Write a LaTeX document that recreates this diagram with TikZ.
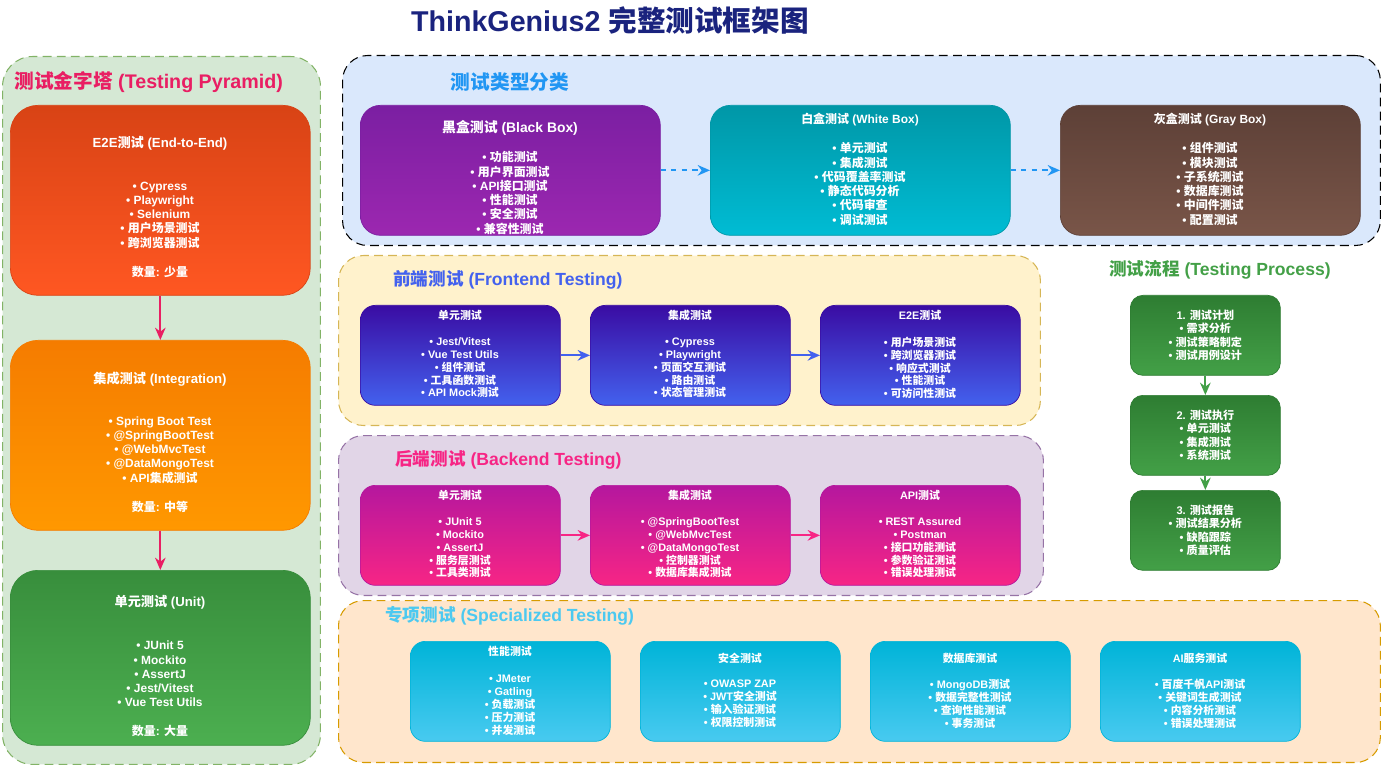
\documentclass[tikz,border=0pt]{standalone}
\usepackage{fontspec}
\setmainfont{Liberation Sans}
\newfontfamily\cjkfont{Noto Sans CJK SC}
\usetikzlibrary{arrows.meta}

%% CJK characters switch to the CJK family
\newXeTeXintercharclass\cjkclass
\count255="4E00
\loop\XeTeXcharclass\count255=\cjkclass\advance\count255 by 1\ifnum\count255<"A000\repeat
\XeTeXinterchartoks 0 \cjkclass={\begingroup\cjkfont}
\XeTeXinterchartoks 4095 \cjkclass={\begingroup\cjkfont}
\XeTeXinterchartoks \cjkclass 0={\endgroup}
\XeTeXinterchartoks \cjkclass 4095={\endgroup}
\XeTeXinterchartokenstate=1

\definecolor{titleblue}{HTML}{1A237E}
\definecolor{pyrpink}{HTML}{E91E63}
\definecolor{typeblue}{HTML}{2196F3}
\definecolor{frontblue}{HTML}{4361EE}
\definecolor{backpink}{HTML}{F72585}
\definecolor{specblue}{HTML}{4CC9F0}
\definecolor{procgreen}{HTML}{43A047}
%% panels
\definecolor{pyrfill}{HTML}{D5E8D4}  \definecolor{pyrline}{HTML}{82B366}
\definecolor{typefill}{HTML}{DAE8FC}
\definecolor{frontfill}{HTML}{FFF2CC}\definecolor{frontline}{HTML}{D6B656}
\definecolor{backfill}{HTML}{E1D5E7} \definecolor{backline}{HTML}{9673A6}
\definecolor{specfill}{HTML}{FFE6CC} \definecolor{specline}{HTML}{D79B00}
%% cards
\definecolor{e2eA}{HTML}{D84315}  \definecolor{e2eB}{HTML}{FF5722}
\definecolor{intA}{HTML}{F57C00}  \definecolor{intB}{HTML}{FF9800}
\definecolor{uniA}{HTML}{388E3C}  \definecolor{uniB}{HTML}{4CAF50}
\definecolor{blkA}{HTML}{7B1FA2}  \definecolor{blkB}{HTML}{9C27B0}
\definecolor{whtA}{HTML}{0097A7}  \definecolor{whtB}{HTML}{00BCD4}
\definecolor{gryA}{HTML}{5D4037}  \definecolor{gryB}{HTML}{795548}
\definecolor{frA}{HTML}{3A0CA3}   \definecolor{frB}{HTML}{4361EE}
\definecolor{bkA}{HTML}{B5179E}   \definecolor{bkB}{HTML}{F72585}
\definecolor{spA}{HTML}{00B4D8}   \definecolor{spB}{HTML}{48CAF0}
\definecolor{prA}{HTML}{2E7D32}   \definecolor{prB}{HTML}{43A047}

\tikzset{
  panel/.style={draw=#1, line width=0.6pt, dash pattern=on 5pt off 3pt,
    rounded corners=0.5cm, anchor=north west, inner sep=0pt},
  card/.style 2 args={top color=#1, bottom color=#2, draw=#1, line width=0.4pt,
    anchor=north west, inner sep=0pt},
  ptitle/.style={font=\bfseries\fontsize{11.2}{13}\selectfont, inner sep=0pt},
  stitle/.style={font=\bfseries\fontsize{10}{12}\selectfont, inner sep=0pt},
  wtxt/.style={text=white, align=center, inner sep=0pt},
  pyrarrow/.style={draw=pyrpink, line width=1.1pt, -{Stealth[length=7pt,width=6pt]}},
  flow/.style={draw=#1, line width=1.2pt, -{Stealth[length=7pt,width=6pt]}},
}

\begin{document}
\begin{tikzpicture}[x=0.02cm, y=-0.02cm]
  \useasboundingbox (0,0) rectangle (1381,766);

  \node[font=\bfseries\fontsize{16.3}{19}\selectfont, text=titleblue] (maintitle) at (610,20) {ThinkGenius2 完整测试框架图};

  %% --- panels ---
  \node[panel=pyrline, fill=pyrfill, rounded corners=0.6cm,
    minimum width=6.36cm, minimum height=14.16cm] (pyrpanel) at (2,56) {};
  \node[panel=black, fill=typefill,
    minimum width=20.76cm, minimum height=3.8cm] (typepanel) at (342,55) {};
  \node[panel=frontline, fill=frontfill,
    minimum width=14.04cm, minimum height=3.4cm] (frontpanel) at (338,255) {};
  \node[panel=backline, fill=backfill,
    minimum width=14.1cm, minimum height=3.2cm] (backpanel) at (338,435) {};
  \node[panel=specline, fill=specfill,
    minimum width=20.84cm, minimum height=3.24cm] (specpanel) at (338,600) {};

  %% --- 测试金字塔 ---
  \node[ptitle, text=pyrpink, anchor=west] (pyrtitle) at (14,82) {测试金字塔 (Testing Pyramid)};
  \node[card={e2eA}{e2eB}, rounded corners=0.55cm,
    minimum width=6cm, minimum height=3.8cm] (e2e) at (10,105) {};
  \node[card={intA}{intB}, rounded corners=0.55cm,
    minimum width=6cm, minimum height=3.8cm] (integ) at (10,340) {};
  \node[card={uniA}{uniB}, rounded corners=0.55cm,
    minimum width=6cm, minimum height=3.5cm] (unitp) at (10,570) {};

  \node[wtxt, font=\bfseries\fontsize{7.5}{9}\selectfont] (e2e-t) at (160,143) {E2E测试 (End-to-End)};
  \node[wtxt, font=\bfseries\fontsize{6.8}{8.1}\selectfont] (e2e-l) at (160,215)
    {• Cypress\\• Playwright\\• Selenium\\• 用户场景测试\\• 跨浏览器测试};
  \node[wtxt, font=\bfseries\fontsize{6.8}{8.1}\selectfont] (e2e-n) at (160,272) {数量: 少量};

  \node[wtxt, font=\bfseries\fontsize{7.5}{9}\selectfont] (integ-t) at (160,379) {集成测试 (Integration)};
  \node[wtxt, font=\bfseries\fontsize{6.8}{8.1}\selectfont] (integ-l) at (160,450)
    {• Spring Boot Test\\• @SpringBootTest\\• @WebMvcTest\\• @DataMongoTest\\• API集成测试};
  \node[wtxt, font=\bfseries\fontsize{6.8}{8.1}\selectfont] (integ-n) at (160,507) {数量: 中等};

  \node[wtxt, font=\bfseries\fontsize{7.5}{9}\selectfont] (unitp-t) at (160,602) {单元测试 (Unit)};
  \node[wtxt, font=\bfseries\fontsize{6.8}{8.1}\selectfont] (unitp-l) at (160,674)
    {• JUnit 5\\• Mockito\\• AssertJ\\• Jest/Vitest\\• Vue Test Utils};
  \node[wtxt, font=\bfseries\fontsize{6.8}{8.1}\selectfont] (unitp-n) at (160,731) {数量: 大量};

  \draw[pyrarrow] (e2e.south) -- (integ.north);
  \draw[pyrarrow] (integ.south) -- (unitp.north);

  %% --- 测试类型分类 ---
  \node[ptitle, text=typeblue] (typetitle) at (510,82) {测试类型分类};
  \node[card={blkA}{blkB}, rounded corners=0.4cm,
    minimum width=6cm, minimum height=2.6cm] (black) at (360,105) {};
  \node[card={whtA}{whtB}, rounded corners=0.4cm,
    minimum width=6cm, minimum height=2.6cm] (white) at (710,105) {};
  \node[card={gryA}{gryB}, rounded corners=0.4cm,
    minimum width=6cm, minimum height=2.6cm] (gray) at (1060,105) {};

  \node[wtxt, font=\bfseries\fontsize{7.9}{9}\selectfont] (black-t) at (510,128) {黑盒测试 (Black Box)};
  \node[wtxt, font=\bfseries\fontsize{6.8}{8.1}\selectfont] (black-l) at (510,193)
    {• 功能测试\\• 用户界面测试\\• API接口测试\\• 性能测试\\• 安全测试\\• 兼容性测试};
  \node[wtxt, font=\bfseries\fontsize{6.8}{8.1}\selectfont] (white-t) at (860,120) {白盒测试 (White Box)};
  \node[wtxt, font=\bfseries\fontsize{6.8}{8.1}\selectfont] (white-l) at (860,184)
    {• 单元测试\\• 集成测试\\• 代码覆盖率测试\\• 静态代码分析\\• 代码审查\\• 调试测试};
  \node[wtxt, font=\bfseries\fontsize{6.8}{8.1}\selectfont] (gray-t) at (1210,120) {灰盒测试 (Gray Box)};
  \node[wtxt, font=\bfseries\fontsize{6.8}{8.1}\selectfont] (gray-l) at (1210,184)
    {• 组件测试\\• 模块测试\\• 子系统测试\\• 数据库测试\\• 中间件测试\\• 配置测试};

  \draw[flow=typeblue, dashed] (black.east) -- (white.west);
  \draw[flow=typeblue, dashed] (white.east) -- (gray.west);

  %% --- 前端测试 ---
  \node[stitle, text=frontblue, anchor=west] (fronttitle) at (393,280) {前端测试 (Frontend Testing)};
  \foreach \n/\x in {fu/360, fi/590, fe/820}
    \node[card={frA}{frB}, rounded corners=0.3cm,
      minimum width=4cm, minimum height=2cm] (\n) at (\x,305) {};
  \node[wtxt, font=\bfseries\fontsize{6.2}{7.25}\selectfont] (fu-t) at (460,315) {单元测试};
  \node[wtxt, font=\bfseries\fontsize{6.2}{7.25}\selectfont] (fu-l) at (460,368)
    {• Jest/Vitest\\• Vue Test Utils\\• 组件测试\\• 工具函数测试\\• API Mock测试};
  \node[wtxt, font=\bfseries\fontsize{6.2}{7.25}\selectfont] (fi-t) at (690,315) {集成测试};
  \node[wtxt, font=\bfseries\fontsize{6.2}{7.25}\selectfont] (fi-l) at (690,368)
    {• Cypress\\• Playwright\\• 页面交互测试\\• 路由测试\\• 状态管理测试};
  \node[wtxt, font=\bfseries\fontsize{6.2}{7.25}\selectfont] (fe-t) at (920,315) {E2E测试};
  \node[wtxt, font=\bfseries\fontsize{6.2}{7.25}\selectfont] (fe-l) at (920,368)
    {• 用户场景测试\\• 跨浏览器测试\\• 响应式测试\\• 性能测试\\• 可访问性测试};
  \draw[flow=frontblue] (fu.east) -- (fi.west);
  \draw[flow=frontblue] (fi.east) -- (fe.west);

  %% --- 后端测试 ---
  \node[stitle, text=backpink, anchor=west] (backtitle) at (395,460) {后端测试 (Backend Testing)};
  \foreach \n/\x in {bu/360, bi/590, ba/820}
    \node[card={bkA}{bkB}, rounded corners=0.3cm,
      minimum width=4cm, minimum height=2cm] (\n) at (\x,485) {};
  \node[wtxt, font=\bfseries\fontsize{6.2}{7.25}\selectfont] (bu-t) at (460,495) {单元测试};
  \node[wtxt, font=\bfseries\fontsize{6.2}{7.25}\selectfont] (bu-l) at (460,548)
    {• JUnit 5\\• Mockito\\• AssertJ\\• 服务层测试\\• 工具类测试};
  \node[wtxt, font=\bfseries\fontsize{6.2}{7.25}\selectfont] (bi-t) at (690,495) {集成测试};
  \node[wtxt, font=\bfseries\fontsize{6.2}{7.25}\selectfont] (bi-l) at (690,548)
    {• @SpringBootTest\\• @WebMvcTest\\• @DataMongoTest\\• 控制器测试\\• 数据库集成测试};
  \node[wtxt, font=\bfseries\fontsize{6.2}{7.25}\selectfont] (ba-t) at (920,495) {API测试};
  \node[wtxt, font=\bfseries\fontsize{6.2}{7.25}\selectfont] (ba-l) at (920,548)
    {• REST Assured\\• Postman\\• 接口功能测试\\• 参数验证测试\\• 错误处理测试};
  \draw[flow=backpink] (bu.east) -- (bi.west);
  \draw[flow=backpink] (bi.east) -- (ba.west);

  %% --- 专项测试 ---
  \node[stitle, text=specblue, anchor=west] (spectitle) at (385,616) {专项测试 (Specialized Testing)};
  \foreach \n/\x in {sp/410, ss/640, sd/870, sa/1100}
    \node[card={spA}{spB}, rounded corners=0.3cm,
      minimum width=4cm, minimum height=2cm] (\n) at (\x,641) {};
  \node[wtxt, font=\bfseries\fontsize{6.2}{7.4}\selectfont] (sp-t) at (510,651) {性能测试};
  \node[wtxt, font=\bfseries\fontsize{6.2}{7.4}\selectfont] (sp-l) at (510,705)
    {• JMeter\\• Gatling\\• 负载测试\\• 压力测试\\• 并发测试};
  \node[wtxt, font=\bfseries\fontsize{6.2}{7.4}\selectfont] (ss-t) at (740,658) {安全测试};
  \node[wtxt, font=\bfseries\fontsize{6.2}{7.4}\selectfont] (ss-l) at (740,704)
    {• OWASP ZAP\\• JWT安全测试\\• 输入验证测试\\• 权限控制测试};
  \node[wtxt, font=\bfseries\fontsize{6.2}{7.4}\selectfont] (sd-t) at (970,658) {数据库测试};
  \node[wtxt, font=\bfseries\fontsize{6.2}{7.4}\selectfont] (sd-l) at (970,704)
    {• MongoDB测试\\• 数据完整性测试\\• 查询性能测试\\• 事务测试};
  \node[wtxt, font=\bfseries\fontsize{6.2}{7.4}\selectfont] (sa-t) at (1200,658) {AI服务测试};
  \node[wtxt, font=\bfseries\fontsize{6.2}{7.4}\selectfont] (sa-l) at (1200,704)
    {• 百度千帆API测试\\• 关键词生成测试\\• 内容分析测试\\• 错误处理测试};

  %% --- 测试流程 ---
  \node[stitle, text=procgreen] (proctitle) at (1220,270) {测试流程 (Testing Process)};
  \foreach \n/\y in {p1/295, p2/395, p3/490}
    \node[card={prA}{prB}, rounded corners=0.25cm,
      minimum width=3cm, minimum height=1.6cm] (\n) at (1130,\y) {};
  \node[wtxt, font=\bfseries\fontsize{6.3}{7.65}\selectfont] (p1-l) at (p1.center)
    {1. 测试计划\\• 需求分析\\• 测试策略制定\\• 测试用例设计};
  \node[wtxt, font=\bfseries\fontsize{6.3}{7.65}\selectfont] (p2-l) at (p2.center)
    {2. 测试执行\\• 单元测试\\• 集成测试\\• 系统测试};
  \node[wtxt, font=\bfseries\fontsize{6.3}{7.65}\selectfont] (p3-l) at (p3.center)
    {3. 测试报告\\• 测试结果分析\\• 缺陷跟踪\\• 质量评估};
  \draw[flow=procgreen] (p1.south) -- (p2.north);
  \draw[flow=procgreen] (p2.south) -- (p3.north);
\end{tikzpicture}
\end{document}
